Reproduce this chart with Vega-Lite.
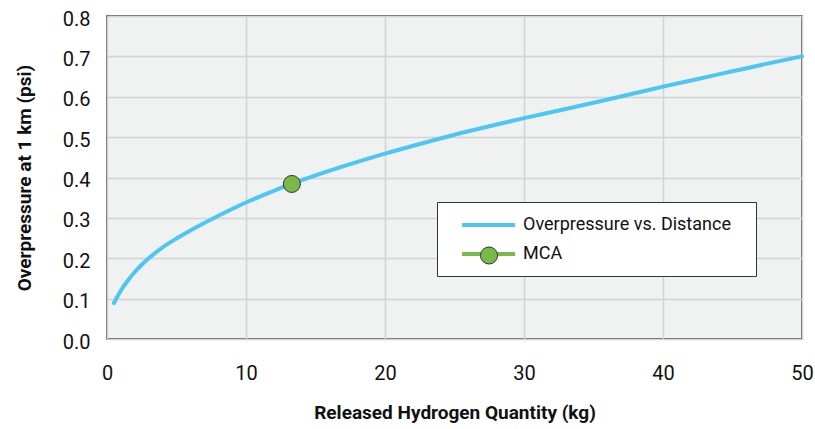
{
  "$schema": "https://vega.github.io/schema/vega-lite/v6.json",
  "width": 695,
  "height": 323,
  "autosize": {"type": "none"},
  "padding": {"left": 107, "top": 16, "right": 13, "bottom": 90},
  "background": "#ffffff",
  "config": {
    "view": {"fill": "#f0f1f1", "stroke": "#333333", "strokeWidth": 1.5},
    "font": "Roboto",
    "axis": {
      "labelFont": "Roboto",
      "titleFont": "Roboto",
      "labelColor": "#111111",
      "titleColor": "#111111",
      "gridColor": "#d3d3d3",
      "gridWidth": 1.5,
      "domain": false,
      "ticks": false,
      "labelFlush": false
    },
    "legend": {"labelFont": "Roboto", "titleFont": "Roboto"}
  },
  "layer": [
    {
      "data": {
        "values": [
          {"q": 0.5, "p": 0.089, "series": "Overpressure vs. Distance"},
          {"q": 1, "p": 0.120, "series": "Overpressure vs. Distance"},
          {"q": 1.5, "p": 0.145, "series": "Overpressure vs. Distance"},
          {"q": 2, "p": 0.166, "series": "Overpressure vs. Distance"},
          {"q": 2.5, "p": 0.184, "series": "Overpressure vs. Distance"},
          {"q": 3, "p": 0.200, "series": "Overpressure vs. Distance"},
          {"q": 3.5, "p": 0.214, "series": "Overpressure vs. Distance"},
          {"q": 4, "p": 0.227, "series": "Overpressure vs. Distance"},
          {"q": 5, "p": 0.249, "series": "Overpressure vs. Distance"},
          {"q": 6, "p": 0.269, "series": "Overpressure vs. Distance"},
          {"q": 7, "p": 0.2875, "series": "Overpressure vs. Distance"},
          {"q": 8, "p": 0.305, "series": "Overpressure vs. Distance"},
          {"q": 9, "p": 0.322, "series": "Overpressure vs. Distance"},
          {"q": 10, "p": 0.338, "series": "Overpressure vs. Distance"},
          {"q": 12, "p": 0.367, "series": "Overpressure vs. Distance"},
          {"q": 13.3, "p": 0.384, "series": "Overpressure vs. Distance"},
          {"q": 15, "p": 0.405, "series": "Overpressure vs. Distance"},
          {"q": 17.5, "p": 0.433, "series": "Overpressure vs. Distance"},
          {"q": 20, "p": 0.459, "series": "Overpressure vs. Distance"},
          {"q": 22.5, "p": 0.483, "series": "Overpressure vs. Distance"},
          {"q": 25, "p": 0.506, "series": "Overpressure vs. Distance"},
          {"q": 27.5, "p": 0.527, "series": "Overpressure vs. Distance"},
          {"q": 30, "p": 0.547, "series": "Overpressure vs. Distance"},
          {"q": 32.5, "p": 0.566, "series": "Overpressure vs. Distance"},
          {"q": 35, "p": 0.585, "series": "Overpressure vs. Distance"},
          {"q": 37.5, "p": 0.605, "series": "Overpressure vs. Distance"},
          {"q": 40, "p": 0.625, "series": "Overpressure vs. Distance"},
          {"q": 42.5, "p": 0.644, "series": "Overpressure vs. Distance"},
          {"q": 45, "p": 0.663, "series": "Overpressure vs. Distance"},
          {"q": 47.5, "p": 0.682, "series": "Overpressure vs. Distance"},
          {"q": 50, "p": 0.700, "series": "Overpressure vs. Distance"}
        ]
      },
      "mark": {"type": "line", "strokeWidth": 4, "interpolate": "monotone", "strokeCap": "round"},
      "encoding": {
        "x": {
          "field": "q", "type": "quantitative",
          "scale": {"domain": [0, 50], "nice": false},
          "axis": {
            "values": [0, 10, 20, 30, 40, 50],
            "title": "Released Hydrogen Quantity (kg)",
            "labelFontSize": 20, "labelPadding": 24,
            "titleFontSize": 19, "titleFontWeight": "bold", "titlePadding": 20
          }
        },
        "y": {
          "field": "p", "type": "quantitative",
          "scale": {"domain": [0, 0.8], "nice": false},
          "axis": {
            "values": [0, 0.1, 0.2, 0.3, 0.4, 0.5, 0.6, 0.7, 0.8],
            "format": ".1f",
            "title": "Overpressure at 1 km (psi)",
            "labelFontSize": 20, "labelPadding": 17, "labelOffset": 3,
            "titleFontSize": 19, "titleFontWeight": "bold", "titlePadding": 28
          }
        },
        "stroke": {
          "field": "series", "type": "nominal",
          "scale": {"domain": ["Overpressure vs. Distance", "MCA"], "range": ["#4dc6f2", "#79b947"]},
          "legend": {
            "title": "\u00a0",
            "titleOrient": "right",
            "titleBaseline": "top",
            "titleFontSize": 28,
            "titlePadding": 15,
            "orient": "none",
            "legendX": 330,
            "legendY": 186,
            "fillColor": "#ffffff",
            "strokeColor": "#333333",
            "padding": 10,
            "symbolType": "M0.2,0H5.2",
            "symbolSize": 449,
            "symbolStrokeWidth": 4,
            "labelFontSize": 18,
            "labelColor": "#111111",
            "labelOffset": 50,
            "labelLimit": 0,
            "rowPadding": 7
          }
        }
      }
    },
    {
      "data": {"values": [{"q": 13.3, "p": 0.384, "series": "MCA"}]},
      "mark": {"type": "point", "filled": true, "size": 290, "stroke": "#333333", "strokeWidth": 1, "opacity": 1},
      "encoding": {
        "x": {"field": "q", "type": "quantitative"},
        "y": {"field": "p", "type": "quantitative"},
        "fill": {
          "field": "series", "type": "nominal",
          "scale": {"domain": ["MCA"], "range": ["#79b947"]},
          "legend": {
            "title": null,
            "orient": "none",
            "legendX": 372.5,
            "legendY": 230,
            "padding": 0,
            "symbolType": "circle",
            "symbolSize": 290,
            "symbolStrokeColor": "#333333",
            "symbolStrokeWidth": 1,
            "symbolOpacity": 1,
            "labelOpacity": 0,
            "labelFontSize": 1
          }
        }
      }
    }
  ]
}
